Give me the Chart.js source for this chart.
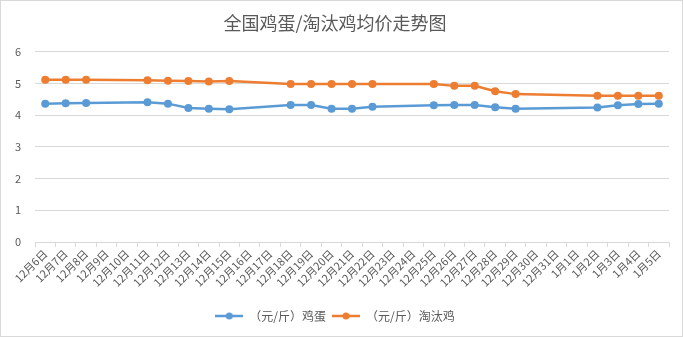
<!DOCTYPE html>
<html>
<head>
<meta charset="utf-8">
<script src="https://cdn.jsdelivr.net/npm/chart.js@4.4.1/dist/chart.umd.min.js"></script>
<style>
html,body{margin:0;padding:0;background:#fff;}
#wrap{width:681px;height:335px;border:1px solid #d9d9d9;position:relative;}
</style>
</head>
<body>
<div id="wrap"><canvas id="c" width="681" height="335"></canvas></div>
<script>
// x categories: every day 12/6 .. 1/5
const dateLabels = ["12月6日","12月7日","12月8日","12月9日","12月10日","12月11日","12月12日","12月13日","12月14日","12月15日","12月16日","12月17日","12月18日","12月19日","12月20日","12月21日","12月22日","12月23日","12月24日","12月25日","12月26日","12月27日","12月28日","12月29日","12月30日","12月31日","1月1日","1月2日","1月3日","1月4日","1月5日"];
// null = no quote that day
const eggPrice = [4.36,4.37,4.38,null,null,4.40,4.36,4.22,4.20,4.18,null,null,4.32,4.32,4.20,4.20,4.26,null,null,4.31,4.32,4.32,4.25,4.20,null,null,null,4.24,4.31,4.35,4.36];
const cullPrice = [5.11,5.11,5.11,null,null,5.10,5.08,5.07,5.06,5.07,null,null,4.98,4.98,4.98,4.98,4.98,null,null,4.98,4.92,4.92,4.75,4.66,null,null,null,4.61,4.61,4.61,4.61];
const seriesNames = ["（元/斤）鸡蛋","（元/斤）淘汰鸡"];
const yTicks = [0,1,2,3,4,5,6];

const FONT = "'Noto Sans CJK SC','Microsoft YaHei',sans-serif";
const GREY = "#595959";
const BLUE = "#5B9BD5", ORANGE = "#ED7D31";

function legendMark(color){
  const cv = document.createElement("canvas");
  cv.width = 28; cv.height = 10;
  const g = cv.getContext("2d");
  g.strokeStyle = color; g.lineWidth = 2.5;
  g.beginPath(); g.moveTo(0,5); g.lineTo(28,5); g.stroke();
  g.fillStyle = color;
  g.beginPath(); g.arc(14,5,3.5,0,Math.PI*2); g.fill();
  return cv;
}
const marks = [legendMark(BLUE), legendMark(ORANGE)];

function ds(label, data, color){
  return {label:label, data:data, borderColor:color, backgroundColor:color,
    borderWidth:2.5, pointRadius:4, pointHoverRadius:4, pointBorderWidth:0,
    tension:0, spanGaps:true};
}

new Chart(document.getElementById("c"), {
  type:"line",
  data:{labels:dateLabels, datasets:[ds(seriesNames[0],eggPrice,BLUE), ds(seriesNames[1],cullPrice,ORANGE)]},
  options:{
    responsive:false, animation:false,
    layout:{padding:{left:0,right:13,top:0,bottom:4}},
    plugins:{
      title:{display:true, text:"全国鸡蛋/淘汰鸡均价走势图", color:GREY,
        font:{family:FONT,size:18,weight:"normal"}, padding:{top:11,bottom:18}},
      legend:{position:"bottom",
        labels:{usePointStyle:true, pointStyleWidth:28, color:GREY, padding:6,
          font:{family:FONT,size:12},
          generateLabels:function(chart){
            return chart.data.datasets.map(function(d,i){
              return {text:d.label, pointStyle:marks[i], fillStyle:d.borderColor,
                strokeStyle:d.borderColor, lineWidth:0, datasetIndex:i, fontColor:GREY};
            });
          }}},
      tooltip:{enabled:false}
    },
    scales:{
      x:{offset:true,
        grid:{offset:true, drawOnChartArea:false, drawTicks:true, tickLength:5, color:"#d9d9d9"},
        border:{color:"#d9d9d9"},
        ticks:{autoSkip:false, maxRotation:45, minRotation:45, color:GREY, padding:0,
          font:{family:FONT,size:11}},
        afterFit:function(s){s.height=62;}},
      y:{min:0, max:6,
        afterBuildTicks:function(s){s.ticks=yTicks.map(function(v){return {value:v};});},
        grid:{color:"#d9d9d9", drawTicks:false},
        border:{display:false},
        ticks:{color:GREY, padding:14, font:{family:FONT,size:11}},
        afterFit:function(s){s.width=34;}}
    }
  }
});
</script>
</body>
</html>
